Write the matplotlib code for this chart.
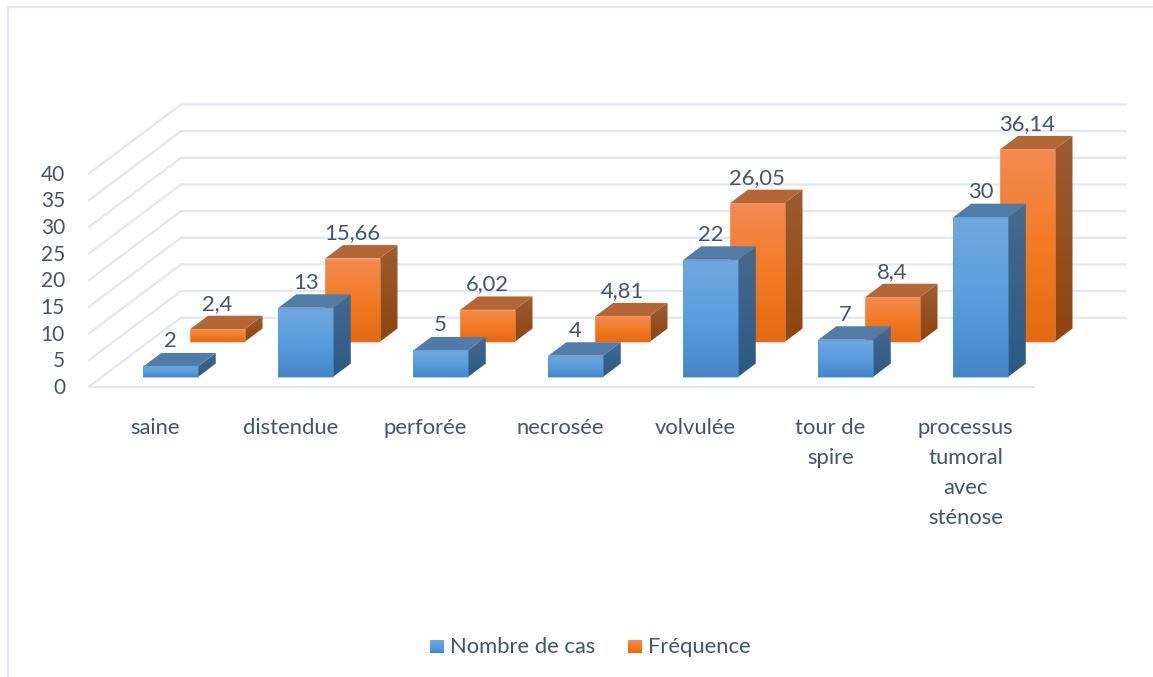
import numpy as np
import matplotlib.pyplot as plt
from matplotlib.colors import LinearSegmentedColormap
from matplotlib.patches import Polygon

plt.rcParams['font.family'] = ['Lato', 'DejaVu Sans']

# Data
categories = ['saine', 'distendue', 'perforée', 'necrosée', 'volvulée',
              'tour de\nspire', 'processus\ntumoral\navec\nsténose']
nombre_de_cas = [2, 13, 5, 4, 22, 7, 30]
frequence = [2.4, 15.66, 6.02, 4.81, 26.05, 8.4, 36.14]
frequence_labels = ['2,4', '15,66', '6,02', '4,81', '26,05', '8,4', '36,14']
yticks = [0, 5, 10, 15, 20, 25, 30, 35, 40]

text_color = '#44546A'
grid_color = '#E3E7EF'
font_size = 15.8

# Projection of the fake 3D box onto figure pixels
X0 = 89.0
Y0 = 386.7
STEP = 135.0
UNIT = 5.33
DX = 92.0
DY = -69.0
BAR_W = 54.5
BAR_D = 0.195
BAR_SHIFT = 1.2


def project(x, v, z):
    return x + DX * z, Y0 - UNIT * v + DY * z


def gradient_poly(ax, pts, colors, top, bottom):
    poly = Polygon(pts, closed=True, fc='none', ec='none')
    ax.add_patch(poly)
    cmap = LinearSegmentedColormap.from_list('g', colors)
    xs = [p[0] for p in pts]
    im = ax.imshow(np.linspace(0, 1, 64).reshape(-1, 1), cmap=cmap, aspect='auto',
                   extent=(min(xs), max(xs), bottom, top), zorder=poly.get_zorder())
    im.set_clip_path(poly)


def draw_bar(ax, i, val, z, front, side, top_col, edge):
    x1 = X0 + STEP * (i + 0.5) - BAR_W / 2 + BAR_SHIFT
    x2 = x1 + BAR_W
    z2 = z + BAR_D
    # side face
    pts = [project(x2, 0, z), project(x2, val, z), project(x2, val, z2), project(x2, 0, z2)]
    gradient_poly(ax, pts, side, min(p[1] for p in pts), max(p[1] for p in pts))
    # top face
    ax.add_patch(Polygon([project(x1, val, z), project(x2, val, z), project(x2, val, z2),
                          project(x1, val, z2)], closed=True, fc=top_col, ec='none'))
    # front face
    pts = [project(x1, 0, z), project(x2, 0, z), project(x2, val, z), project(x1, val, z)]
    gradient_poly(ax, pts, front, pts[2][1], pts[0][1])
    ax.add_patch(Polygon(pts, closed=True, fc='none', ec=edge, lw=0.6, alpha=0.6))


blue_front = ['#72A7DD', '#5A9EDE', '#4686C6']
blue_side = ['#47698F', '#2B5A85']
blue_top = '#527CA8'
orange_front = ['#F28B52', '#F47A25', '#E36A12']
orange_side = ['#9C5C32', '#8E450F']
orange_top = '#B56636'

fig = plt.figure(figsize=(11.53, 6.77), dpi=100)
ax = fig.add_axes([0, 0, 1, 1])
ax.set_xlim(0, 1153)
ax.set_ylim(677, 0)
ax.axis('off')

# Outer frame
ax.plot([1153, 8, 8], [7, 7, 677], color=grid_color, lw=1.6, zorder=0.5)

# Walls and floor
floor_w = STEP * len(categories)
for t in yticks:
    x_a, y_a = project(X0, t, 0)
    x_b, y_b = project(X0, t, 1)
    x_c, y_c = project(X0 + floor_w, t, 1)
    ax.plot([x_a, x_b, x_c], [y_a, y_b, y_c], color=grid_color, lw=1.6, zorder=0.5)
    ax.text(65, y_a + 1.2, str(t), ha='right', va='center', fontsize=15, color=text_color)
ax.plot([X0, X0 + floor_w], [Y0, Y0], color=grid_color, lw=1.6, zorder=0.5)

# Bars, back row first
for i, val in enumerate(frequence):
    draw_bar(ax, i, val, 0.648, orange_front, orange_side, orange_top, '#F8A878')
for i, val in enumerate(nombre_de_cas):
    draw_bar(ax, i, val, 0.14, blue_front, blue_side, blue_top, '#5B9BD5')

# Value labels
for i, (a, b) in enumerate(zip(nombre_de_cas, frequence)):
    cx = X0 + STEP * (i + 0.5) + BAR_SHIFT
    xa, ya = project(cx, a, 0.14 + BAR_D)
    ax.text(xa - 18, ya - 11.5, str(a), ha='center', va='center', fontsize=font_size, color=text_color)
    xb, yb = project(cx, b, 0.648 + BAR_D)
    ax.text(xb - 18, yb - 12, frequence_labels[i], ha='center', va='center',
            fontsize=font_size, color=text_color)

# Category labels
for i, name in enumerate(categories):
    for j, line in enumerate(name.split('\n')):
        ax.text(X0 + STEP * (i + 0.5) - 1, 428.5 + 29.7 * j, line, ha='center', va='center',
                fontsize=font_size, color=text_color)

# Legend
for x, name, cols in [(430, 'Nombre de cas', blue_front), (628, 'Fréquence', orange_front)]:
    pts = [(x, 640), (x + 13.5, 640), (x + 13.5, 653), (x, 653)]
    gradient_poly(ax, pts, cols, 640, 653)
    ax.text(x + 20, 646.8, name, ha='left', va='center', fontsize=font_size, color=text_color)

ax.set_xlim(0, 1153)
ax.set_ylim(677, 0)
fig.savefig('out.png', dpi=100)
